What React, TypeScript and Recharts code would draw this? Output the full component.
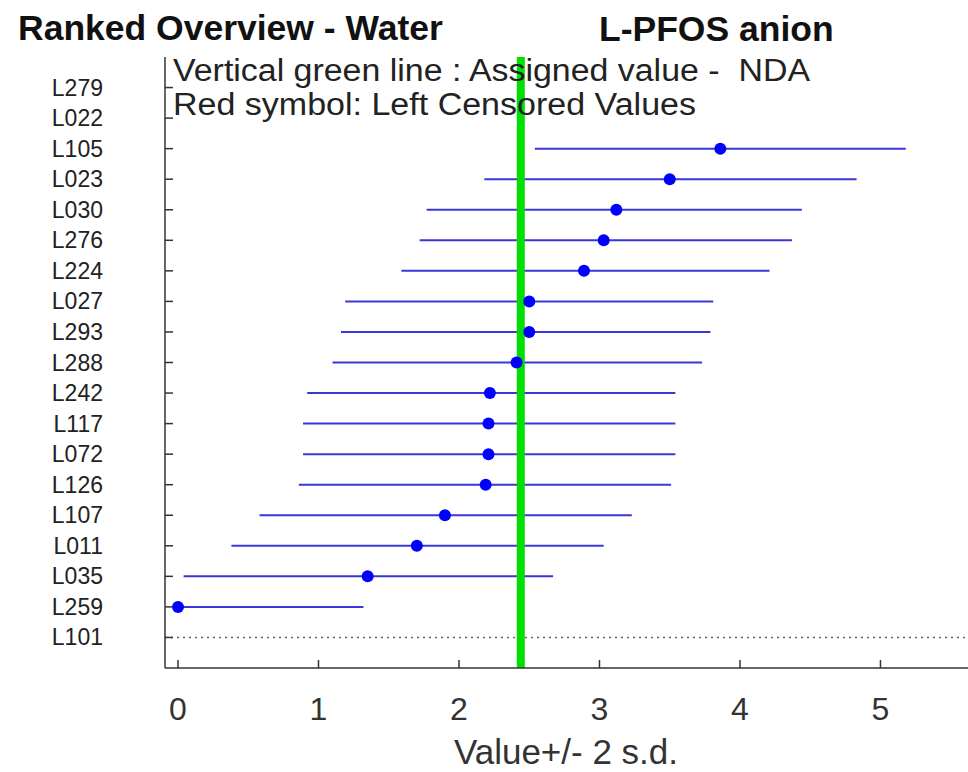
import React from 'react';
import { ScatterChart, Scatter, XAxis, YAxis, ErrorBar, ReferenceLine } from 'recharts';

// Labs from top to bottom
const labs = ['L279', 'L022', 'L105', 'L023', 'L030', 'L276', 'L224', 'L027', 'L293', 'L288', 'L242', 'L117', 'L072', 'L126', 'L107', 'L011', 'L035', 'L259', 'L101'];
const values: (number | null)[] = [null, null, 3.86, 3.50, 3.12, 3.03, 2.89, 2.50, 2.50, 2.41, 2.22, 2.21, 2.21, 2.19, 1.90, 1.70, 1.35, 0.0, null];
const lows: (number | null)[] = [null, null, 2.54, 2.18, 1.77, 1.72, 1.59, 1.19, 1.16, 1.10, 0.92, 0.89, 0.89, 0.86, 0.58, 0.38, 0.04, 0.0, null];
const highs: (number | null)[] = [null, null, 5.18, 4.83, 4.44, 4.37, 4.21, 3.81, 3.79, 3.73, 3.54, 3.54, 3.54, 3.51, 3.23, 3.03, 2.67, 1.32, null];
const assignedValue = 2.44;
const dottedLab = 'L101';
const xTicks = [0, 1, 2, 3, 4, 5];

const titleLeft = 'Ranked Overview - Water';
const titleRight = 'L-PFOS anion';
const note1 = 'Vertical green line : Assigned value -  NDA';
const note2 = 'Red symbol: Left Censored Values';
const xTitle = 'Value+/- 2 s.d.';

const N = labs.length;
const rankOf = (i: number) => N - i;
const yTicks = labs.map((_, i) => rankOf(i));
const labelFor = (v: number) => labs[N - v] ?? '';

const points = labs
  .map((lab, i) => ({ lab, i }))
  .filter(({ i }) => values[i] !== null)
  .map(({ lab, i }) => ({
    lab,
    x: values[i] as number,
    y: rankOf(i),
    err: [(values[i] as number) - (lows[i] as number), (highs[i] as number) - (values[i] as number)],
  }));

const FONT = '"Liberation Sans", Arial, Helvetica, sans-serif';

const YTick = (props: any) => {
  const { x, y, payload } = props;
  return (
    <g>
      <line x1={x} x2={x + 8} y1={y} y2={y} stroke="#333" strokeWidth={1.5} />
      <text x={x - 62} y={y + 8} textAnchor="end" fontSize={23} fill="#222" fontFamily={FONT}>
        {labelFor(payload.value)}
      </text>
    </g>
  );
};

const XTick = (props: any) => {
  const { x, y, payload } = props;
  return (
    <g>
      <line x1={x} x2={x} y1={y} y2={y - 8} stroke="#333" strokeWidth={1.5} />
      <text x={x} y={y + 52} textAnchor="middle" fontSize={32} fill="#333" fontFamily={FONT}>
        {payload.value}
      </text>
    </g>
  );
};

const Dot = (props: any) => {
  const { cx, cy } = props;
  if (cx == null || cy == null) return null;
  return <circle cx={cx} cy={cy} r={6} fill="#0000ff" />;
};

export default function App() {
  return (
    <div style={{ position: 'absolute', left: 0, top: 0, width: 968, height: 772, background: '#fff' }}>
      <ScatterChart width={968} height={772} margin={{ top: 57, right: 0, bottom: 0, left: 0 }}>
        <XAxis
          type="number"
          dataKey="x"
          domain={[-0.0925, 5.623]}
          ticks={xTicks}
          allowDataOverflow
          height={104}
          tickSize={0}
          tickMargin={0}
          tick={<XTick />}
          axisLine={{ stroke: '#333', strokeWidth: 1.5 }}
        />
        <YAxis
          type="number"
          dataKey="y"
          domain={[0, N + 1]}
          ticks={yTicks}
          interval={0}
          width={165}
          tickSize={0}
          tickMargin={0}
          tick={<YTick />}
          axisLine={{ stroke: '#333', strokeWidth: 1.5 }}
        />
        <ReferenceLine
          y={rankOf(labs.indexOf(dottedLab))}
          stroke="#666"
          strokeWidth={1.5}
          strokeDasharray="2 4"
        />
        <Scatter data={points} shape={<Dot />} isAnimationActive={false}>
          <ErrorBar dataKey="err" direction="x" width={0} stroke="#3a36d8" strokeWidth={2} />
        </Scatter>
        <ReferenceLine x={assignedValue} stroke="#00e000" strokeWidth={8} />
      </ScatterChart>
      <svg width={968} height={772} style={{ position: 'absolute', left: 0, top: 0, pointerEvents: 'none' }}>
        <text x={18} y={40} fontSize={35.5} fontWeight="bold" fill="#111" fontFamily={FONT}>{titleLeft}</text>
        <text x={599} y={41} fontSize={35.5} fontWeight="bold" fill="#111" fontFamily={FONT}>{titleRight}</text>
        <text x={173} y={81} fontSize={31} fill="#222" fontFamily={FONT} textLength={637} lengthAdjust="spacingAndGlyphs" style={{ whiteSpace: 'pre' }}>{note1}</text>
        <text x={173} y={115} fontSize={31} fill="#222" fontFamily={FONT} textLength={523} lengthAdjust="spacingAndGlyphs">{note2}</text>
        <text x={566} y={764} textAnchor="middle" fontSize={35} fill="#333" fontFamily={FONT}>{xTitle}</text>
      </svg>
    </div>
  );
}
